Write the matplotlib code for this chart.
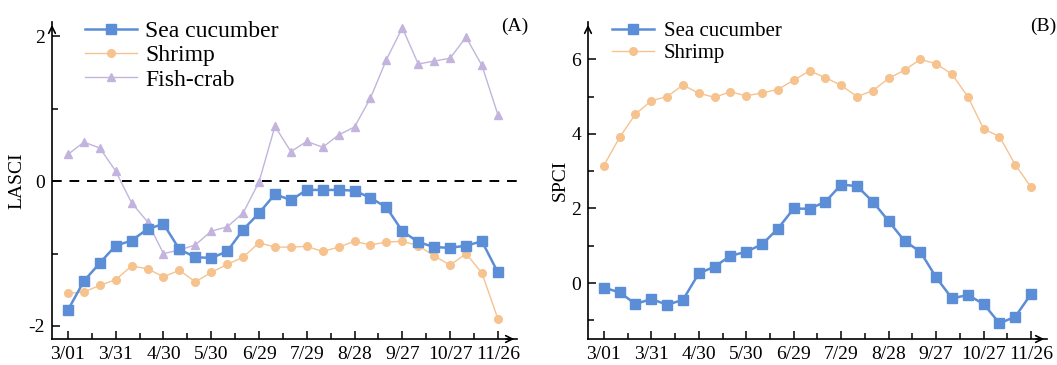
import matplotlib
matplotlib.use("Agg")
import matplotlib.pyplot as plt
import numpy as np

plt.rcParams['font.family'] = ['Liberation Serif', 'DejaVu Serif']
plt.rcParams['axes.unicode_minus'] = False

dates = ["3/01", "3/31", "4/30", "5/30", "6/29", "7/29", "8/28", "9/27", "10/27", "11/26"]

lasci_sea = [-1.78, -1.38, -1.13, -0.89, -0.82, -0.66, -0.59, -0.94, -1.05, -1.06,
             -0.97, -0.67, -0.44, -0.18, -0.26, -0.12, -0.12, -0.12, -0.13, -0.23,
             -0.36, -0.69, -0.84, -0.91, -0.92, -0.89, -0.83, -1.26]
lasci_shrimp = [-1.55, -1.53, -1.44, -1.36, -1.17, -1.21, -1.32, -1.23, -1.39, -1.26,
                -1.15, -1.05, -0.85, -0.91, -0.91, -0.90, -0.97, -0.91, -0.83, -0.88,
                -0.84, -0.83, -0.89, -1.03, -1.16, -1.00, -1.27, -1.90]
lasci_fish = [0.37, 0.54, 0.46, 0.14, -0.30, -0.56, -1.00, -0.95, -0.88, -0.69,
              -0.63, -0.44, -0.01, 0.76, 0.41, 0.55, 0.47, 0.64, 0.75, 1.15,
              1.68, 2.12, 1.62, 1.66, 1.70, 1.99, 1.60, 0.92]

spci_sea = [-0.12, -0.25, -0.56, -0.43, -0.58, -0.45, 0.26, 0.44, 0.73, 0.84,
            1.04, 1.46, 2.00, 1.99, 2.18, 2.64, 2.60, 2.18, 1.66, 1.13,
            0.84, 0.15, -0.41, -0.32, -0.56, -1.08, -0.90, -0.29]
spci_shrimp = [3.15, 3.91, 4.53, 4.89, 5.00, 5.31, 5.09, 4.98, 5.13, 5.02,
               5.10, 5.19, 5.44, 5.69, 5.51, 5.30, 5.00, 5.16, 5.49, 5.71,
               6.00, 5.88, 5.60, 5.00, 4.13, 3.93, 3.17, 2.57]

c_sea = "#5B8ED6"
c_shrimp = "#F6C28E"
c_fish = "#C2B4DC"

fig = plt.figure(figsize=(10.57, 3.65), dpi=100)
axA = fig.add_axes([0.0492, 0.0712, 0.4399, 0.8685])
axB = fig.add_axes([0.5563, 0.0712, 0.4342, 0.8685])

x = np.arange(len(lasci_sea))

def style(ax, xmax):
    for s in ['top', 'right']:
        ax.spines[s].set_visible(False)
    for s in ['left', 'bottom']:
        ax.spines[s].set_linewidth(1.2)
    ax.set_xlim(-1, xmax)
    ax.set_xticks(np.arange(0, len(x), 3))
    ax.set_xticklabels(dates)
    ax.set_xticks(np.arange(1.5, len(x), 3), minor=True)
    ax.tick_params(which='major', direction='in', length=6, width=1.1, labelsize=14, pad=5)
    ax.tick_params(which='minor', direction='in', length=4, width=1.1)
    ax.annotate('', xy=(0, 1.0), xytext=(0, 0.97), xycoords='axes fraction',
                arrowprops=dict(arrowstyle='->', lw=1.2, color='black', mutation_scale=12))
    ax.annotate('', xy=(1.0, 0), xytext=(0.97, 0), xycoords='axes fraction',
                arrowprops=dict(arrowstyle='->', lw=1.2, color='black', mutation_scale=12))

# Panel A
axA.axhline(0, color='black', ls=(0, (5, 4)), lw=1.4, zorder=1)
axA.plot(x, lasci_sea, color=c_sea, marker='s', ms=7, lw=1.8, label='Sea cucumber', zorder=4)
axA.plot(x, lasci_shrimp, color=c_shrimp, marker='o', ms=5.5, lw=1.0, label='Shrimp', zorder=3)
axA.plot(x, lasci_fish, color=c_fish, marker='^', ms=6, lw=1.0, label='Fish-crab', zorder=2)
axA.set_ylim(-2.18, 2.2)
axA.set_yticks([-2, 0, 2])
axA.set_yticks([-1, 1], minor=True)
style(axA, 28.2)
axA.set_ylabel('LASCI', fontsize=14, labelpad=2)
axA.legend(loc='upper left', bbox_to_anchor=(0.04, 1.05), frameon=False, fontsize=17,
           handlelength=2.2, labelspacing=0.12, borderaxespad=0.2, handletextpad=0.35)
fig.text(0.4995, 0.905, '(A)', fontsize=14, ha='right', va='bottom')

# Panel B
axB.plot(x, spci_sea, color=c_sea, marker='s', ms=7, lw=1.8, label='Sea cucumber', zorder=4)
axB.plot(x, spci_shrimp, color=c_shrimp, marker='o', ms=5.5, lw=1.0, label='Shrimp', zorder=3)
axB.set_ylim(-1.5, 7.0)
axB.set_yticks([0, 2, 4, 6])
axB.set_yticks([-1, 1, 3, 5], minor=True)
style(axB, 28.0)
axB.set_ylabel('SPCI', fontsize=14, labelpad=2)
axB.legend(loc='upper left', bbox_to_anchor=(0.025, 1.04), frameon=False, fontsize=15,
           handlelength=2.0, labelspacing=0.12, borderaxespad=0.2, handletextpad=0.5)
fig.text(0.9995, 0.905, '(B)', fontsize=14, ha='right', va='bottom')

fig.savefig('out.png', dpi=100)
